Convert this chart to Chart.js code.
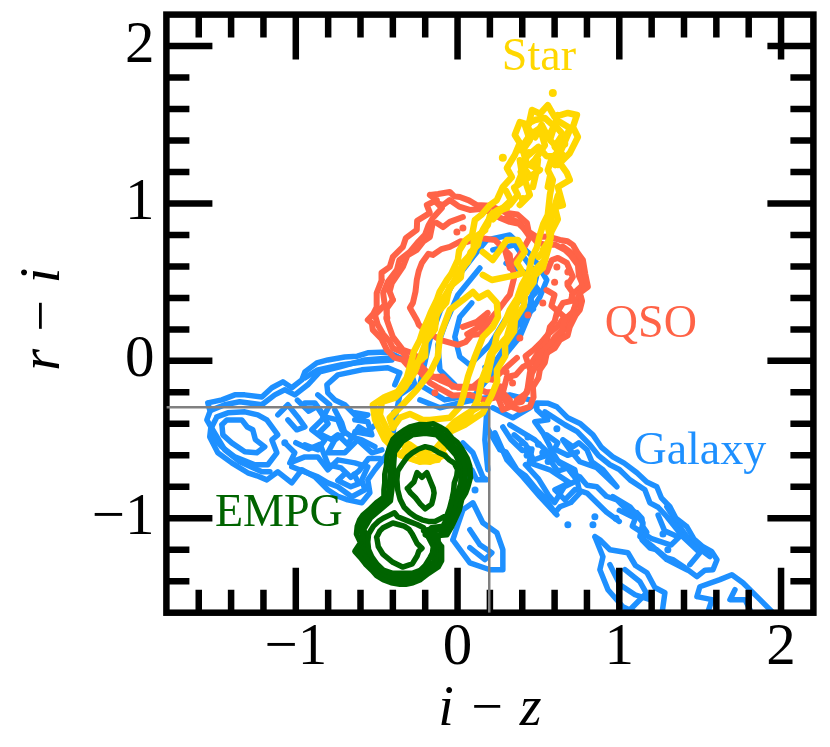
<!DOCTYPE html>
<html><head><meta charset="utf-8">
<style>html,body{margin:0;padding:0;background:#fff}canvas{display:block}</style>
<script src="https://cdn.jsdelivr.net/npm/chart.js@4"></script>
</head><body><canvas id="c" width="830" height="747"></canvas>
<script>
const xTickValues=[-1.8,-1.6,-1.4,-1.2,-1,-0.8,-0.6,-0.4,-0.2,0,0.2,0.4,0.6,0.8,1,1.2,1.4,1.6,1.8,2,2.2];
const yTickValues=[-1.6,-1.4,-1.2,-1,-0.8,-0.6,-0.4,-0.2,0,0.2,0.4,0.6,0.8,1,1.2,1.4,1.6,1.8,2,2.2];
const majorTicks=[-1,0,1,2];
const majorLabels=['\u22121','0','1','2'];
const xTitle='i \u2212 z', yTitle='r \u2212 i\u2009';
const boxLine=[[-1.8,-0.295],[0.196,-0.295],[0.196,-1.6]];
const classNames=['Star','QSO','Galaxy','EMPG'];
const classLabelX=[0.503,1.195,1.498,-1.105];
const classLabelY=[1.924,0.229,-0.578,-0.971];

const empg1=[[-.31,-.81],[-.27,-.77],[-.25,-.71],[-.22,-.74],[-.19,-.71],[-.17,-.76],[-.15,-.81],[-.145,-.84],[-.15,-.87],[-.16,-.91],[-.2,-.94],[-.23,-.91],[-.26,-.87],[-.29,-.84],[-.31,-.81]];
const empg2=[[-.50,-1.12],[-.48,-1.08],[-.46,-1.06],[-.40,-1.03],[-.33,-1.05],[-.30,-1.07],[-.28,-1.10],[-.25,-1.16],[-.22,-1.19],[-.24,-1.21],[-.25,-1.24],[-.28,-1.29],[-.34,-1.31],[-.40,-1.28],[-.46,-1.23],[-.49,-1.18],[-.50,-1.12]];
const empg3=[[-.375,-.755],[-.37,-.70],[-.345,-.66],[-.31,-.61],[-.28,-.585],[-.24,-.56],[-.20,-.545],[-.16,-.555],[-.12,-.58],[-.08,-.60],[-.05,-.63],[-.02,-.65],[0,-.69],[-.005,-.73],[-.02,-.775],[-.025,-.83],[-.035,-.88],[-.05,-.94],[-.065,-.98],[-.10,-1.0],[-.14,-1.02],[-.18,-1.02],[-.22,-1.01],[-.26,-.99],[-.295,-.965],[-.33,-.93],[-.355,-.88],[-.37,-.82],[-.375,-.755]];
const empg4=[[-.555,-1.15],[-.55,-1.10],[-.52,-1.05],[-.49,-1.02],[-.46,-1.0],[-.42,-.98],[-.39,-.965],[-.37,-.99],[-.30,-1.02],[-.25,-1.04],[-.21,-1.06],[-.19,-1.10],[-.15,-1.18],[-.155,-1.22],[-.17,-1.25],[-.20,-1.30],[-.23,-1.33],[-.28,-1.35],[-.34,-1.35],[-.40,-1.35],[-.46,-1.33],[-.50,-1.29],[-.53,-1.245],[-.55,-1.20],[-.555,-1.15]];
const empg5=[[-.42,-.546],[-.40,-.50],[-.37,-.47],[-.33,-.44],[-.295,-.42],[-.24,-.405],[-.19,-.406],[-.15,-.40],[-.11,-.42],[-.07,-.445],[-.035,-.49],[0,-.52],[.03,-.565],[.06,-.62],[.076,-.67],[.08,-.74],[.064,-.80],[.05,-.84],[.026,-.88],[.01,-.95],[-.017,-1.01],[-.04,-1.06],[-.066,-1.105],[-.12,-1.11],[-.17,-1.10],[-.20,-1.105],[-.127,-1.14],[-.10,-1.18],[-.097,-1.22],[-.10,-1.27],[-.12,-1.31],[-.15,-1.33],[-.18,-1.35],[-.23,-1.39],[-.276,-1.41],[-.32,-1.42],[-.356,-1.42],[-.41,-1.41],[-.46,-1.39],[-.50,-1.365],[-.53,-1.33],[-.57,-1.29],[-.60,-1.25],[-.635,-1.21],[-.60,-1.155],[-.625,-1.10],[-.62,-1.05],[-.605,-1.01],[-.585,-.98],[-.54,-.94],[-.50,-.90],[-.48,-.885],[-.46,-.87],[-.455,-.82],[-.45,-.775],[-.45,-.72],[-.44,-.67],[-.435,-.60],[-.42,-.546]];
const empg6=[[-.40,-.55],[-.36,-.49],[-.29,-.44],[-.20,-.43],[-.12,-.44],[-.05,-.51],[.01,-.58],[.05,-.67],[.045,-.79],[.01,-.87],[-.03,-.99],[-.08,-1.08],[-.17,-1.07],[-.21,-1.08],[-.14,-1.13],[-.11,-1.21],[-.13,-1.29],[-.19,-1.33],[-.28,-1.39],[-.35,-1.40],[-.45,-1.37],[-.51,-1.31],[-.58,-1.24],[-.61,-1.19],[-.58,-1.15],[-.60,-1.06],[-.56,-.99],[-.48,-.92],[-.43,-.88],[-.42,-.77],[-.41,-.66],[-.40,-.55]];
const empg7=[[-.39,-.58],[-.34,-.51],[-.28,-.47],[-.20,-.46],[-.13,-.47],[-.07,-.53],[-.01,-.60],[.025,-.68],[.02,-.78],[-.01,-.87],[-.05,-.97],[-.09,-1.05],[-.16,-1.06],[-.12,-1.13],[-.125,-1.21],[-.15,-1.28],[-.21,-1.32],[-.28,-1.37],[-.35,-1.385],[-.44,-1.35],[-.50,-1.29],[-.56,-1.23],[-.585,-1.18],[-.56,-1.14],[-.58,-1.07],[-.54,-1.00],[-.46,-.93],[-.415,-.89],[-.40,-.77],[-.395,-.66],[-.39,-.58]];

const star1=[[-.233,-.641],[-.357,-.597],[-.45,-.50],[-.51,-.375],[-.524,-.28],[-.45,-.229],[-.37,-.197],[-.314,-.108],[-.283,.006],[-.27,.06],[-.233,.133],[-.215,.19],[-.184,.26],[-.165,.31],[-.128,.387],[-.11,.44],[-.066,.514],[-.04,.55],[.002,.641],[.01,.70],[.051,.768],[.09,.80],[.107,.895],[.15,.93],[.20,.99],[.243,1.022],[.28,1.105],[.336,1.168],[.305,1.225],[.354,1.308],[.385,1.384],[.354,1.435],[.385,1.517],[.44,1.50],[.46,1.594],[.51,1.57],[.558,1.625],[.60,1.55],[.682,1.575],[.738,1.562],[.713,1.486],[.744,1.422],[.694,1.32],[.633,1.257],[.676,1.194],[.694,1.149],[.62,1.105],[.651,.99],[.583,.971],[.558,.851],[.575,.78],[.527,.705],[.54,.64],[.478,.578],[.47,.50],[.416,.419],[.41,.35],[.354,.26],[.35,.19],[.293,.102],[.295,.03],[.243,-.057],[.245,-.13],[.212,-.216],[.156,-.33],[.045,-.406],[-.048,-.451],[-.079,-.546],[-.122,-.629],[-.233,-.641]];
const star2=[[-.295,-.533],[-.419,-.47],[-.48,-.343],[-.468,-.26],[-.388,-.235],[-.326,-.171],[-.264,-.07],[-.24,.0],[-.202,.102],[-.19,.17],[-.159,.229],[-.13,.29],[-.097,.356],[-.07,.42],[-.017,.514],[.01,.58],[.064,.629],[.08,.69],[.126,.737],[.14,.80],[.187,.863],[.20,.92],[.249,.959],[.323,.99],[.373,1.054],[.35,1.10],[.416,1.149],[.39,1.20],[.429,1.244],[.404,1.34],[.447,1.403],[.416,1.498],[.478,1.53],[.54,1.543],[.589,1.498],[.633,1.517],[.694,1.479],[.664,1.403],[.62,1.327],[.583,1.289],[.558,1.213],[.589,1.149],[.571,1.054],[.558,.927],[.53,.87],[.509,.80],[.49,.72],[.459,.654],[.44,.56],[.398,.483],[.37,.40],[.323,.324],[.29,.24],[.243,.165],[.23,.10],[.20,.038],[.18,-.04],[.15,-.121],[.126,-.248],[.076,-.343],[-.017,-.406],[-.079,-.489],[-.14,-.565],[-.233,-.578],[-.295,-.533]];
const star3=[[-.40,-.425],[-.42,-.362],[-.357,-.298],[-.252,-.184],[-.17,-.076],[-.122,.025],[-.11,.152],[-.078,.241],[-.048,.324],[.033,.387],[.095,.438],[.13,.40],[.187,.432],[.243,.368],[.25,.279],[.218,.216],[.156,.152],[.107,.025],[.064,-.102],[.033,-.229],[.014,-.292],[-.048,-.362],[-.17,-.375],[-.215,-.375],[-.295,-.337],[-.357,-.362],[-.40,-.425]];
const star4=[[-.215,.178],[-.159,.279],[-.066,.432],[.014,.559],[.095,.686],[.156,.832],[.218,.94],[.305,.971]];
const star5=[[.181,-.121],[.218,.051],[.305,.152],[.367,.368],[.429,.495],[.527,.59],[.571,.749],[.571,.876],[.614,1.003]];
const star6=[[.156,.546],[.212,.514],[.367,.546],[.404,.559],[.367,.622],[.416,.692],[.373,.768],[.305,.768],[.262,.705],[.218,.641],[.156,.692]];
const star7=[[.385,1.275],[.398,1.194],[.373,1.13]];
const star8=[[.497,1.276],[.49,1.213],[.466,1.105]];
const star9=[[.571,1.168],[.558,1.105]];
const star10=[[.385,1.34],[.447,1.435],[.509,1.479],[.54,1.371],[.478,1.276],[.447,1.244],[.509,1.213],[.416,1.149],[.447,1.054],[.385,.99]];
const star11=[[.62,1.562],[.571,1.403],[.633,1.34],[.694,1.467],[.602,1.244]];
const star12=[[-.338,-.578],[-.264,-.629],[-.171,-.641],[-.079,-.597]];
const star13=[[-.326,-.546],[-.233,-.597],[-.14,-.61]];
const star14=[[-.511,-.311],[-.493,-.406],[-.45,-.483],[-.388,-.546]];
const star15=[[.156,-.279],[.076,-.324],[-.017,-.387],[-.066,-.438]];
const star16=[[.42,1.50],[.48,1.42],[.52,1.50],[.56,1.42],[.60,1.50],[.65,1.44],[.60,1.36],[.66,1.30],[.55,1.30],[.50,1.36],[.43,1.30],[.40,1.24],[.45,1.17]];
const star17=[[.30,1.08],[.33,1.02],[.28,.97],[.22,.90]];
const star18=[[.62,1.05],[.60,.98],[.62,.90],[.58,.82],[.56,.73],[.50,.66]];
const star19=[[-.30,-.13],[-.26,-.02],[-.20,.03],[-.20,.12],[-.14,.20],[-.13,.30],[-.07,.37],[-.05,.47],[.02,.53],[.03,.62],[.10,.70],[.10,.78],[.17,.83]];
const starDots=[[.589,1.702],[.404,1.029],[.28,1.29],[.62,1.25],[.44,1.32],[.66,1.38]];

const qso1=[[-.171,1.054],[-.12,1.06],[-.048,1.073],[-.02,1.045],[.014,1.041],[.07,1.02],[.119,.99],[.2,.985],[.305,.94],[.37,.93],[.429,.876],[.44,.82],[.49,.787],[.56,.79],[.633,.768],[.68,.76],[.713,.737],[.74,.69],[.775,.641],[.79,.55],[.806,.47],[.756,.432],[.77,.38],[.756,.324],[.73,.29],[.694,.216],[.68,.16],[.633,.133],[.6,.08],[.552,.051],[.54,-.01],[.509,-.057],[.50,-.11],[.466,-.165],[.47,-.23],[.447,-.292],[.385,-.311],[.33,-.29],[.28,-.311],[.249,-.229],[.17,-.25],[.076,-.216],[-.03,-.22],[-.128,-.165],[-.17,-.14],[-.233,-.07],[-.29,-.05],[-.338,.006],[-.39,.02],[-.437,.07],[-.47,.14],[-.524,.197],[-.53,.24],[-.555,.26],[-.52,.30],[-.499,.343],[-.50,.43],[-.468,.514],[-.47,.56],[-.419,.597],[-.40,.66],[-.338,.724],[-.32,.78],[-.252,.832],[-.25,.89],[-.171,.94],[-.19,.99],[-.128,1.022],[-.171,1.054]];
const qso2=[[-.128,1.003],[-.09,.99],[-.048,1.022],[.01,.98],[.076,.959],[.14,.965],[.20,.946],[.26,.91],[.323,.883],[.38,.87],[.435,.819],[.49,.755],[.54,.737],[.60,.74],[.664,.705],[.70,.67],[.744,.61],[.75,.54],[.775,.483],[.707,.419],[.73,.36],[.713,.311],[.66,.26],[.645,.197],[.60,.15],[.571,.102],[.51,.05],[.497,-.006],[.46,-.08],[.447,-.152],[.42,-.21],[.398,-.26],[.311,-.279],[.262,-.197],[.18,-.20],[.107,-.171],[0,-.17],[-.109,-.121],[-.17,-.09],[-.233,-.025],[-.30,.01],[-.344,.057],[-.40,.08],[-.419,.121],[-.46,.17],[-.493,.229],[-.511,.292],[-.45,.356],[-.46,.43],[-.431,.502],[-.375,.578],[-.36,.64],[-.295,.692],[-.24,.76],[-.202,.80],[-.18,.86],[-.153,.908],[-.097,.971],[-.128,1.003]];
const qso3=[[.138,.781],[.058,.756],[.02,.76],[-.048,.724],[-.10,.71],[-.153,.673],[-.18,.68],[-.221,.622],[-.24,.57],[-.252,.514],[-.26,.44],[-.276,.368],[-.295,.337],[-.252,.26],[-.24,.23],[-.202,.197],[-.109,.133],[.002,.102],[.05,.12],[.088,.165],[.14,.17],[.20,.26],[.262,.337],[.30,.39],[.323,.419],[.354,.546],[.33,.60],[.323,.673],[.231,.768],[.138,.781]];
const qso4=[[-.128,.876],[-.09,.85],[-.048,.883],[.033,.914]];
const qso5=[[-.40,.387],[-.42,.44],[-.406,.495],[-.338,.597],[-.31,.67],[-.252,.705],[-.21,.76],[-.171,.787],[-.153,.876]];
const qso6=[[-.40,.387],[-.44,.33],[-.437,.26],[-.40,.152],[-.338,.07],[-.28,.05],[-.22,.0]];
const qso7=[[.323,-.248],[.28,-.203],[.305,-.102],[.36,-.09],[.404,-.038],[.46,-.01],[.509,.07],[.55,.12],[.571,.216],[.60,.25],[.614,.305],[.651,.368],[.70,.38],[.713,.432],[.68,.48],[.713,.533],[.676,.622],[.62,.654],[.583,.641],[.552,.565]];
const qso8=[[-.153,-.102],[-.09,-.10],[-.029,-.165],[.095,-.165],[.16,-.11],[.218,-.121],[.305,-.038],[.367,.019]];
const qso9=[[.033,.216],[.119,.248],[.187,.305],[.14,.22],[.06,.17]];
const qso10=[[.305,.914],[.385,.876],[.447,.787],[.385,.673],[.323,.59],[.293,.705]];
const qso11=[[.651,.725],[.738,.66],[.769,.559],[.769,.47],[.713,.305],[.633,.152],[.571,.07],[.447,-.076],[.429,-.203],[.367,-.248]];
const qso12=[[.55,.45],[.60,.42],[.58,.35],[.66,.28],[.62,.22],[.56,.17],[.52,.12],[.47,.07],[.42,.03],[.45,-.06]];
const qsoDots=[[.614,.597],[.682,.565],[.682,.495],[.435,.292],[.527,.368],[.385,.146],[-.004,.819],[.033,.844],[.323,-.108],[.262,-.165],[-.14,-.203],[-.437,.273],[.34,-.14],[.30,-.07],[.60,.50]];

const galL1=[[-1.544,-.267],[-1.457,-.248],[-1.377,-.216],[-1.315,-.216],[-1.21,-.229],[-1.148,-.171],[-1.08,-.133],[-1.025,-.171],[-.963,-.121],[-.944,-.07],[-.87,-.013],[-.802,.006],[-.697,.025],[-.62,.03],[-.555,.051],[-.431,.057],[-.307,-.006],[-.264,-.152],[-.357,-.216],[-.388,-.375],[-.406,-.521],[-.437,-.597],[-.511,-.692],[-.555,-.756],[-.542,-.838],[-.592,-.902],[-.679,-.883],[-.74,-.86],[-.802,-.819],[-.882,-.737],[-.963,-.692],[-1.025,-.775],[-1.111,-.705],[-1.179,-.756],[-1.24,-.73],[-1.297,-.711],[-1.396,-.648],[-1.482,-.584],[-1.532,-.483],[-1.525,-.42],[-1.55,-.375],[-1.53,-.32],[-1.544,-.267]];
const galL1b=[[-1.519,-.311],[-1.439,-.279],[-1.347,-.26],[-1.21,-.279],[-1.13,-.216],[-1.068,-.184],[-1.006,-.216],[-.926,-.152],[-.852,-.07],[-.728,-.038],[-.573,.006],[-.419,.019]];
const galL2=[[-1.488,-.356],[-1.519,-.419],[-1.513,-.483],[-1.457,-.546],[-1.377,-.61],[-1.253,-.66],[-1.173,-.66],[-1.117,-.584],[-1.148,-.502],[-1.111,-.47],[-1.179,-.375],[-1.235,-.343],[-1.315,-.324],[-1.42,-.33],[-1.488,-.356]];
const galL3=[[-1.457,-.406],[-1.426,-.375],[-1.334,-.375],[-1.3,-.42],[-1.266,-.438],[-1.25,-.50],[-1.192,-.546],[-1.241,-.584],[-1.315,-.578],[-1.396,-.521],[-1.451,-.47],[-1.457,-.406]];
const galL4=[[-1.513,-.438],[-1.439,-.565],[-1.346,-.641],[-1.21,-.705],[-1.16,-.705]];
const galU1=[[-.635,-.343],[-.697,-.279],[-.759,-.248],[-.802,-.203],[-.808,-.152],[-.74,-.089],[-.592,-.057],[-.431,-.044],[-.357,-.076],[-.388,-.152]];
const galU2=[[-.944,-.108],[-.864,-.057],[-.716,-.025],[-.573,-.006],[-.406,.006]];
const galA=[[-1.111,-.343],[-1.049,-.279],[-.988,-.356],[-.944,-.419],[-.994,-.438],[-1.049,-.375]];
const galB=[[-.944,-.267],[-.882,-.267],[-.82,-.356],[-.74,-.375],[-.716,-.438],[-.654,-.483],[-.592,-.502],[-.511,-.546]];
const galC=[[-1.068,-.521],[-1.006,-.584],[-1.037,-.648],[-.944,-.61],[-.864,-.61],[-.802,-.692],[-.74,-.629],[-.635,-.648],[-.555,-.673],[-.592,-.756],[-.573,-.819],[-.654,-.863],[-.74,-.8],[-.802,-.775],[-.864,-.737],[-.944,-.705],[-1.025,-.673]];
const galD=[[-.759,-.311],[-.716,-.394],[-.697,-.457],[-.759,-.502],[-.802,-.584],[-.697,-.584],[-.617,-.502],[-.53,-.584],[-.468,-.565]];
const galE=[[-.635,-.33],[-.555,-.343],[-.635,-.375],[-.555,-.387],[-.53,-.47],[-.635,-.451]];
const galF=[[-.864,-.216],[-.79,-.279],[-.839,-.375],[-.901,-.438],[-.82,-.502],[-.864,-.565],[-.944,-.533]];
const galG=[[-.99,-.25],[-.92,-.32],[-.87,-.29],[-.80,-.40],[-.86,-.46],[-.78,-.5],[-.74,-.47],[-.68,-.53],[-.61,-.42],[-.56,-.45],[-.50,-.40]];
const galH=[[-1.0,-.52],[-.92,-.56],[-.85,-.53],[-.80,-.66],[-.72,-.68],[-.66,-.74],[-.61,-.70],[-.55,-.62],[-.48,-.62]];
const galI=[[-.70,-.72],[-.74,-.76],[-.66,-.8],[-.61,-.78],[-.64,-.72]];
const galC1=[[.181,.768],[.323,.80],[.466,.66],[.552,.514],[.509,.406],[.447,.305],[.385,.152],[.305,.051],[.218,-.076],[.107,-.216],[-.079,-.248],[-.233,-.152],[-.171,.133],[-.109,.311],[-.029,.495],[.095,.66],[.181,.768]];
const galC2=[[.088,.368],[.014,.279],[-.017,.152],[.014,.025],[.076,-.025],[.20,.102],[.293,.26],[.385,.387]];
const galC3=[[.218,.705],[.354,.737],[.49,.546],[.447,.356],[.354,.197],[.262,.038],[.138,-.152]];
const galC4=[[.138,.59],[.002,.419],[-.078,.229],[-.122,.102],[-.109,-.057],[-.017,-.152]];
const galC5=[[-.233,-.248],[-.109,-.298],[.045,-.26],[.169,-.235],[.323,-.216],[.447,-.248]];
const galC6=[[.30,.62],[.42,.56],[.50,.45],[.45,.40],[.47,.33],[.40,.28],[.40,.20],[.33,.13],[.29,.06],[.24,.0],[.17,-.04]];
const galR1=[[.218,-.298],[.342,-.362],[.447,-.298],[.49,-.267],[.56,-.27],[.614,-.292],[.682,-.362],[.76,-.40],[.837,-.47],[.89,-.55],[.96,-.61],[1.03,-.65],[1.109,-.711],[1.17,-.77],[1.232,-.80],[1.26,-.87],[1.313,-.927],[1.35,-1.00],[1.418,-1.054],[1.46,-1.13],[1.517,-1.181],[1.57,-1.21],[1.604,-1.263],[1.579,-1.327],[1.53,-1.33],[1.48,-1.371],[1.40,-1.31],[1.331,-1.263],[1.29,-1.25],[1.232,-1.2],[1.19,-1.19],[1.14,-1.137],[1.17,-1.09],[1.146,-1.054],[1.14,-1.00],[1.109,-.965],[1.05,-.95],[.985,-.883],[.92,-.86],[.861,-.80],[.80,-.79],[.756,-.737],[.71,-.72],[.676,-.673],[.63,-.65],[.589,-.584],[.56,-.52],[.527,-.457],[.478,-.387],[.558,-.375],[.49,-.311],[.49,-.267]];
const galR2=[[.54,-.324],[.664,-.406],[.74,-.45],[.818,-.533],[.87,-.60],[.942,-.66],[1.0,-.69],[1.066,-.756],[1.158,-.819],[1.189,-.902],[1.24,-.93],[1.294,-.99],[1.393,-1.117],[1.498,-1.219],[1.436,-1.295]];
const galR3=[[.651,-.502],[.713,-.546],[.75,-.52],[.80,-.565],[.83,-.64],[.899,-.692],[.985,-.80],[.861,-.679],[.756,-.641],[.694,-.565],[.651,-.502]];
const galR4=[[.181,-.419],[.262,-.565],[.30,-.58],[.367,-.692],[.42,-.73],[.49,-.819],[.54,-.87],[.602,-.965],[.633,-.927],[.70,-.90],[.756,-.838],[.725,-.692],[.608,-.629],[.478,-.502],[.323,-.406]];
const galR5=[[.231,-.457],[.305,-.629],[.404,-.737],[.509,-.863],[.614,-.978]];
const galR6=[[.447,-.648],[.571,-.692],[.694,-.775],[.602,-.819],[.664,-.883],[.725,-.819]];
const galR7=[[.96,-.863],[1.066,-.927],[1.146,-1.029],[1.127,-1.117],[1.208,-1.181],[1.294,-1.263],[1.418,-1.327]];
const galR8=[[1.294,-.927],[1.356,-1.029],[1.418,-1.117],[1.48,-1.181],[1.56,-1.244]];
const galJ=[[.35,-.47],[.42,-.53],[.47,-.63],[.55,-.60],[.62,-.70],[.68,-.68],[.74,-.76],[.66,-.80],[.60,-.90],[.56,-.85],[.50,-.75],[.42,-.66]];
const galK=[[1.0,-.95],[1.1,-1.0],[1.08,-1.05],[1.2,-1.13],[1.32,-1.17],[1.37,-1.12],[1.28,-1.08],[1.24,-.98]];
const galN=[[.55,-.47],[.62,-.52],[.60,-.56],[.68,-.60],[.74,-.58]];
const galP=[[.28,-.42],[.33,-.5],[.40,-.57],[.46,-.56],[.44,-.66]];
const galQ=[[.74,-.82],[.80,-.84],[.86,-.90],[.92,-.96],[1.0,-1.02]];
const galB1=[[.849,-1.117],[.899,-1.244],[.88,-1.327],[.93,-1.454],[1.022,-1.562],[1.127,-1.613],[1.263,-1.613],[1.282,-1.473],[1.22,-1.44],[1.171,-1.346],[1.10,-1.30],[1.053,-1.219],[.942,-1.2],[.88,-1.137],[.849,-1.117]];
const galB2=[[.942,-1.295],[1.004,-1.422],[1.097,-1.486],[1.19,-1.517],[1.127,-1.403],[1.035,-1.327]];
const galB3=[[1.066,-1.581],[1.158,-1.486]];
const galBR1=[[1.48,-1.498],[1.498,-1.435],[1.622,-1.39],[1.696,-1.359],[1.764,-1.41],[1.87,-1.517],[1.944,-1.594],[1.9,-1.62],[1.542,-1.613],[1.573,-1.517],[1.48,-1.498]];
const galBR2=[[1.715,-1.454],[1.684,-1.517],[1.777,-1.517],[1.808,-1.581]];
const galM1=[[-.029,-1.137],[.076,-1.283],[.20,-1.327],[.28,-1.327],[.28,-1.2],[.243,-1.092],[.156,-1.029],[.095,-.902],[.033,-.946],[.002,-1.041],[-.029,-1.137]];
const galM2=[[.076,-1.073],[.138,-1.168],[.212,-1.219],[.169,-1.263],[.076,-1.187]];
const galM3=[[.033,-.521],[.095,-.584],[.156,-.737],[.181,-.756],[.119,-.756],[.088,-.692],[.045,-.819]];
const galM4=[[.181,-.311],[.169,-.502],[.187,-.692]];
const galDots=[[.435,-.559],[.527,-.584],[.614,-.432],[.435,-.483],[.682,-1.041],[.849,-.99],[.837,-1.041],[.108,-.82],[-1.068,-.52],[-.39,-.33],[.98,-1.0],[1.27,-1.1],[.50,-.53],[.56,-.64],[.43,-.60],[.40,-.52],[1.30,-1.2]];

const empgContours=[empg1,empg2,empg3,empg4,empg5,empg6,empg7];
const starContours=[star1,star2,star3,star4,star5,star6,star7,star8,star9,star10,star11,star12,star13,star14,star15,star16,star17,star18,star19];
const qsoContours=[qso1,qso2,qso3,qso4,qso5,qso6,qso7,qso8,qso9,qso10,qso11,qso12];
const galaxyContours=[galL1,galL1b,galL2,galL3,galL4,galU1,galU2,galA,galB,galC,galD,galE,galF,galG,galH,galI,galC1,galC2,galC3,galC4,galC5,galC6,galR1,galR2,galR3,galR4,galR5,galR6,galR7,galR8,galJ,galK,galN,galP,galQ,galB1,galB2,galB3,galBR1,galBR2,galM1,galM2,galM3,galM4];

const xy=p=>p.map(([x,y])=>({x,y}));
const lineDs=(p,c,w)=>({data:xy(p),borderColor:c,backgroundColor:c,borderWidth:w,pointRadius:0,showLine:true,tension:0,fill:false,borderJoinStyle:'round',borderCapStyle:'round'});
const dotDs=(p,c,r)=>({data:xy(p),borderColor:c,backgroundColor:c,pointRadius:r,pointBorderWidth:0,showLine:false});
const FONT='"Liberation Serif"';
const COL={e:'#006400',s:'#FFD700',q:'#FF6347',g:'#1E90FF'};
const labelColors=[COL.s,COL.q,COL.g,COL.e];

const datasets=[
 {...lineDs(boxLine,'#808080',2.5),borderCapStyle:'butt',borderJoinStyle:'miter'},
 ...empgContours.map(p=>lineDs(p,COL.e,5.5)),
 dotDs(starDots,COL.s,4),
 ...starContours.map(p=>lineDs(p,COL.s,6.5)),
 dotDs(qsoDots,COL.q,3.5),
 ...qsoContours.map(p=>lineDs(p,COL.q,6)),
 dotDs(galDots,COL.g,3.5),
 ...galaxyContours.map(p=>lineDs(p,COL.g,5.5))
];

const frame={id:'frame',
 beforeDatasetDraw(chart,args){
  if(args.index!==0)return;
  const {ctx,chartArea:a,scales:{x,y}}=chart;
  const isMajor=v=>majorTicks.some(m=>Math.abs(m-v)<1e-6);
  ctx.save();ctx.strokeStyle='#000';ctx.lineWidth=6.5;ctx.lineCap='butt';
  ctx.beginPath();
  x.ticks.forEach(t=>{const p=x.getPixelForValue(t.value),l=isMajor(t.value)?45:23;
    if(p<a.left+1||p>a.right-1)return;
    ctx.moveTo(p,a.bottom);ctx.lineTo(p,a.bottom-l);ctx.moveTo(p,a.top);ctx.lineTo(p,a.top+l);});
  y.ticks.forEach(t=>{const p=y.getPixelForValue(t.value),l=isMajor(t.value)?46:23;
    if(p<a.top+1||p>a.bottom-1)return;
    ctx.moveTo(a.left,p);ctx.lineTo(a.left+l,p);ctx.moveTo(a.right,p);ctx.lineTo(a.right-l,p);});
  ctx.stroke();
  ctx.lineJoin='miter';
  ctx.strokeRect(a.left,a.top,a.right-a.left,a.bottom-a.top);
  ctx.restore();
 },
 afterDatasetsDraw(chart){
  const {ctx,scales:{x,y}}=chart;
  ctx.save();ctx.font='46px '+FONT;ctx.textAlign='center';ctx.textBaseline='middle';
  classNames.forEach((n,i)=>{ctx.fillStyle=labelColors[i];ctx.fillText(n,x.getPixelForValue(classLabelX[i]),y.getPixelForValue(classLabelY[i]));});
  ctx.restore();
 }};

const tickLabel=v=>{const i=majorTicks.findIndex(m=>Math.abs(m-v)<1e-6);return i<0?'':majorLabels[i];};
new Chart(document.getElementById('c'),{
 type:'scatter',
 data:{datasets},
 plugins:[frame],
 options:{responsive:false,animation:false,
  layout:{padding:{top:14.6,right:16.6,left:0,bottom:0}},
  plugins:{legend:{display:false},tooltip:{enabled:false},title:{display:false}},
  scales:{
   x:{type:'linear',min:-1.8,max:2.2,
    afterBuildTicks:s=>{s.ticks=xTickValues.map(value=>({value}));},
    afterFit:s=>{s.height=134.3;s.paddingLeft=0;s.paddingRight=0;},
    grid:{display:false,drawTicks:false},border:{display:false},
    ticks:{autoSkip:false,maxRotation:0,minRotation:0,padding:0,color:'#000',font:{family:FONT,size:59},callback:tickLabel},
    title:{display:true,text:xTitle,color:'#000',font:{family:FONT,size:56,style:'italic'},padding:{top:0,bottom:3}}},
   y:{type:'linear',min:-1.6,max:2.2,
    afterBuildTicks:s=>{s.ticks=yTickValues.map(value=>({value}));},
    afterFit:s=>{s.width=166.4;s.paddingTop=0;s.paddingBottom=0;},
    grid:{display:false,drawTicks:false},border:{display:false},
    ticks:{autoSkip:false,maxRotation:0,minRotation:0,padding:12,color:'#000',font:{family:FONT,size:59},callback:tickLabel},
    title:{display:true,text:yTitle,color:'#000',font:{family:FONT,size:56,style:'italic'},padding:{top:11,bottom:0}}}
  }}
});
</script></body></html>
